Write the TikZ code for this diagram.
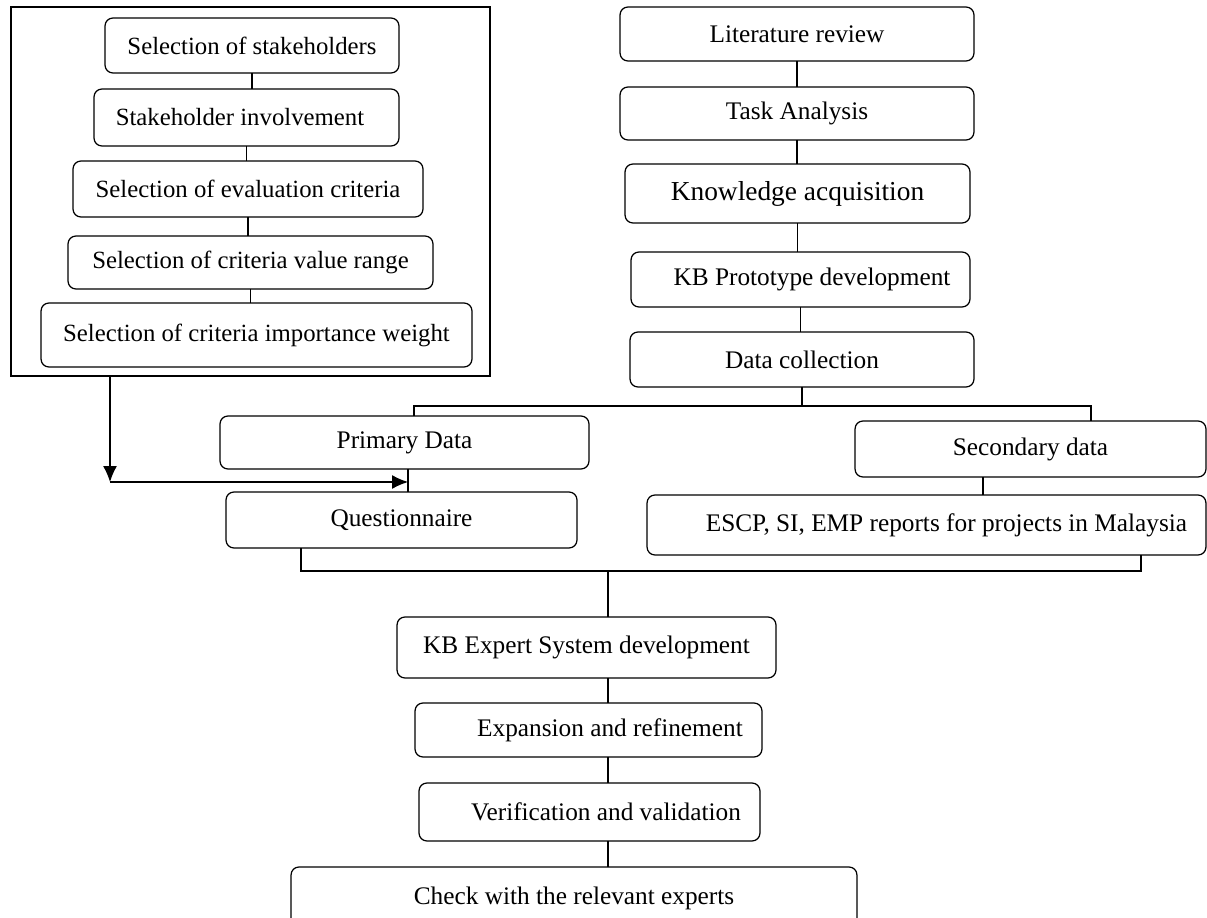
\documentclass[tikz,border=0pt]{standalone}
\usepackage{fontspec}
\setmainfont{Liberation Serif}
\usepackage{tikz}
\usetikzlibrary{arrows.meta}
\tikzset{>={Latex[length=3.2mm,width=2.8mm]}}
\tikzstyle{stage}=[draw,rounded corners=4.5pt,line width=0.7pt,inner sep=0pt,outer sep=0pt,font=\fontsize{14.4}{17}\selectfont]
\tikzstyle{substage}=[stage,font=\fontsize{14.1}{17}\selectfont]
\tikzstyle{link}=[line width=0.7pt]

\begin{document}
\begin{tikzpicture}[x=0.02cm,y=-0.02cm]
\clip (0,0) rectangle (1207,918);

% stakeholder part
\node[draw,line width=0.7pt,minimum width=9.58cm,minimum height=7.38cm,outer sep=0pt] (frame) at (250.5,191.5) {};
\node[substage,minimum width=5.88cm,minimum height=1.10cm] (selstake) at (252,45.5) {Selection of stakeholders};
\node[substage,minimum width=6.10cm,minimum height=1.14cm] (involve) at (246.5,117.5) {Stakeholder involvement\hspace*{0.26cm}};
\node[substage,minimum width=7.00cm,minimum height=1.12cm] (evalcrit) at (248,189) {Selection of evaluation criteria};
\node[substage,minimum width=7.30cm,minimum height=1.06cm] (valrange) at (250.5,262.5) {Selection of criteria value range};
\node[substage,minimum width=8.62cm,minimum height=1.28cm] (weight) at (256.5,335) {Selection of criteria importance weight};

\draw[link] (selstake.south) -- (selstake.south |- involve.north);
\draw[link] (involve.south) -- (involve.south |- evalcrit.north);
\draw[link] (evalcrit.south) -- (evalcrit.south |- valrange.north);
\draw[link] (valrange.south) -- (valrange.south |- weight.north);

% main column
\node[stage,minimum width=7.08cm,minimum height=1.08cm] (litrev) at (797,34) {Literature review};
\node[stage,minimum width=7.08cm,minimum height=1.06cm] (task) at (797,113.5) {Task Analysis};
\node[stage,minimum width=6.90cm,minimum height=1.18cm,font=\fontsize{15.6}{18}\selectfont] (knowacq) at (797.5,193.5) {Knowledge acquisition};
\node[stage,minimum width=6.78cm,minimum height=1.10cm] (proto) at (800.5,279.5) {\hspace*{0.46cm}KB Prototype development};
\node[stage,minimum width=6.88cm,minimum height=1.10cm] (datacol) at (802,359.5) {Data collection};

\draw[link] (litrev.south) -- (litrev.south |- task.north);
\draw[link] (task.south) -- (task.south |- knowacq.north);
\draw[link] (knowacq.south) -- (knowacq.south |- proto.north);
\draw[link] (proto.south) -- (proto.south |- datacol.north);

% data sources
\node[stage,minimum width=7.38cm,minimum height=1.06cm] (primary) at (404.5,442.5) {Primary Data};
\node[stage,minimum width=7.02cm,minimum height=1.12cm] (quest) at (401.5,520) {Questionnaire};
\node[stage,minimum width=7.02cm,minimum height=1.12cm] (secondary) at (1030.5,449) {Secondary data};
\node[stage,minimum width=11.18cm,minimum height=1.20cm] (reports) at (926.5,525) {\hspace*{0.8cm}ESCP, SI, EMP reports for projects in Malaysia};

\coordinate (busL) at (414,406);
\coordinate (busR) at (1091,406);
\draw[link] (datacol.south) -- (datacol.south |- busL);
\draw[link] (primary.north -| busL) -- (busL) -- (busR) -- (secondary.north -| busR);

\coordinate (pq) at (408,482);
\draw[link] (primary.south -| pq) -- (quest.north -| pq);
\coordinate (sr) at (983,0);
\draw[link] (secondary.south -| sr) -- (reports.north -| sr);

% arrow from the stakeholder part
\coordinate (bend) at (110,482);
\draw[link,->] (frame.south -| bend) -- (bend);
\draw[link,->] (bend) -- (pq);

% lower column
\node[stage,minimum width=7.58cm,minimum height=1.22cm] (expsys) at (586.5,647.5) {KB Expert System development};
\node[stage,minimum width=6.94cm,minimum height=1.08cm] (refine) at (588.5,730) {\hspace*{0.86cm}Expansion and refinement};
\node[stage,minimum width=6.82cm,minimum height=1.16cm] (verify) at (589.5,812) {\hspace*{0.66cm}Verification and validation};
\node[stage,minimum width=11.32cm,minimum height=1.26cm] (experts) at (574,898.5) {Check with the relevant experts};

\coordinate (lowL) at (301,571);
\coordinate (lowR) at (1141,571);
\coordinate (spine) at (608,571);
\draw[link] (quest.south -| lowL) -- (lowL) -- (lowR) -- (reports.south -| lowR);
\draw[link] (spine) -- (expsys.north -| spine);
\draw[link] (expsys.south -| spine) -- (refine.north -| spine);
\draw[link] (refine.south -| spine) -- (verify.north -| spine);
\draw[link] (verify.south -| spine) -- (experts.north -| spine);
\end{tikzpicture}
\end{document}
